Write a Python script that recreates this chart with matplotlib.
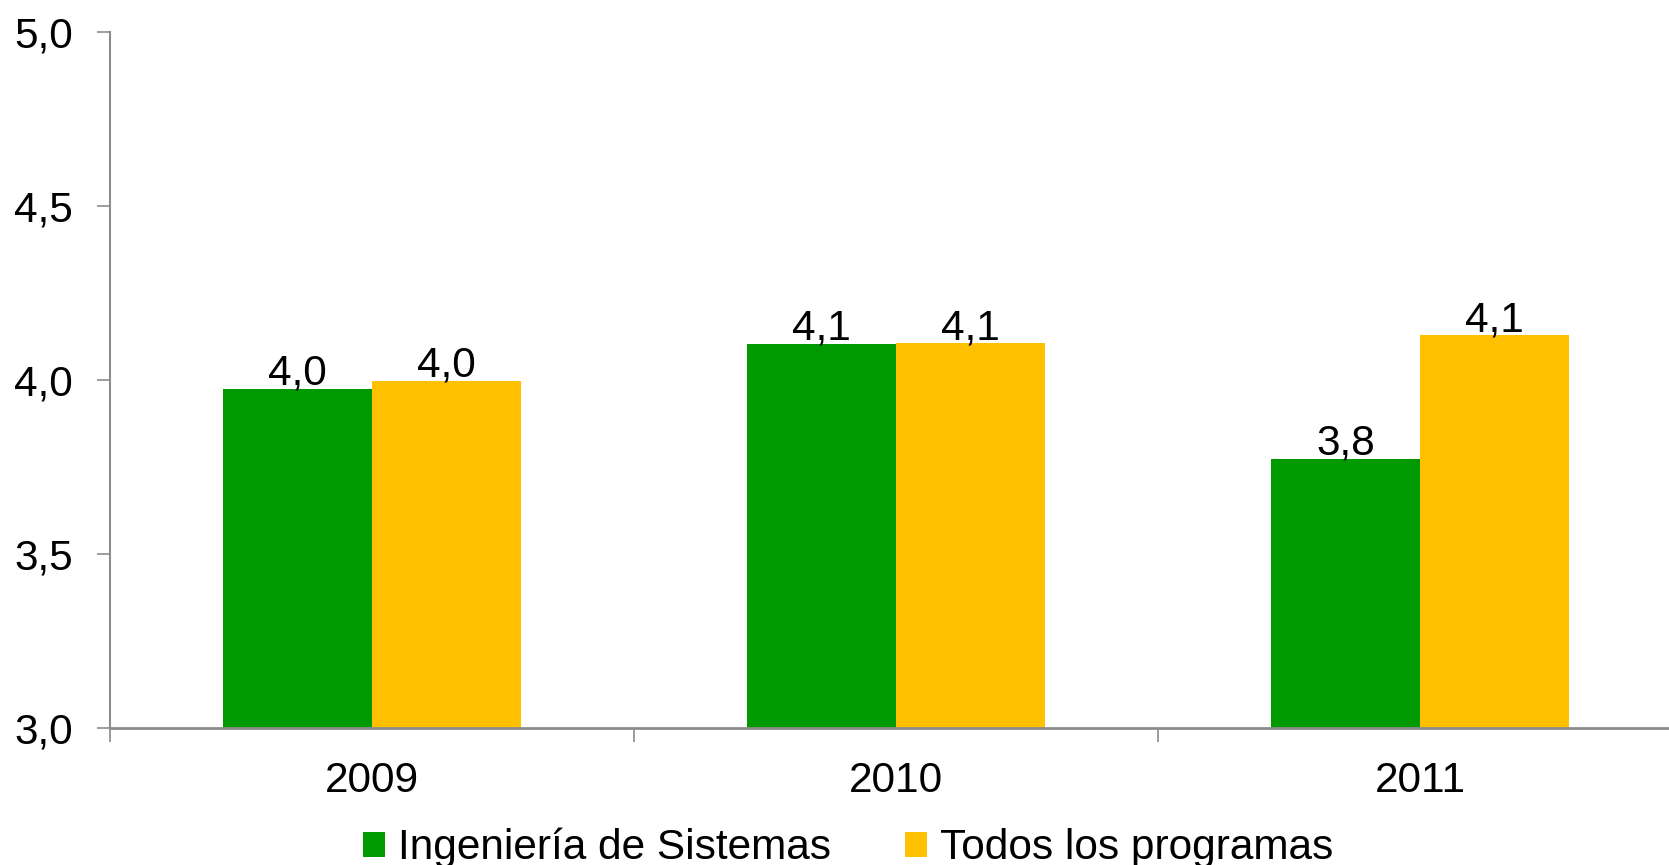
import matplotlib
matplotlib.use("Agg")
import matplotlib.pyplot as plt
from matplotlib.patches import Patch
import numpy as np

plt.rcParams['font.family'] = ['Liberation Sans', 'DejaVu Sans']

years = ["2009", "2010", "2011"]
series_names = ["Ingeniería de Sistemas", "Todos los programas"]
ing_sistemas = [3.975, 4.104, 3.774]
todos = [3.998, 4.106, 4.128]
colors = ["#009900", "#FFC000"]
yticks = [3.0, 3.5, 4.0, 4.5, 5.0]

W, H = 1669, 865
fig = plt.figure(figsize=(W / 100, H / 100), dpi=100)
ax = fig.add_axes([110 / W, (H - 728) / H, 1572 / W, 696 / H])

x = np.arange(len(years))
bw = 0.285
fs = 30.5

for i, (vals, col) in enumerate(zip([ing_sistemas, todos], colors)):
    pos = x + (i - 0.5) * bw
    ax.bar(pos, vals, width=bw, color=col, edgecolor='none', zorder=2)
    for px, v in zip(pos, vals):
        ax.annotate(f"{v:.1f}".replace('.', ','), (px, v), xytext=(0, 4),
                    textcoords='offset pixels', ha='center', va='baseline',
                    fontsize=fs, color='black')

ax.set_xlim(-0.5, 2.5)
ax.set_ylim(3.0, 5.0)
ax.set_yticks(yticks)
ax.set_yticklabels([f"{t:.1f}".replace('.', ',') for t in yticks], fontsize=fs)

ax.set_xticks([-0.5, 0.5, 1.5, 2.5])
ax.set_xticklabels([])
ax.set_xticks(x, minor=True)
ax.set_xticklabels(years, minor=True, fontsize=fs)
ax.tick_params(axis='x', which='minor', length=0, pad=23.5)
ax.tick_params(axis='x', which='major', length=10, width=1.2, color='#8c8c8c')
ax.tick_params(axis='y', length=9.5, width=1.2, color='#8c8c8c', pad=17)

for s in ['top', 'right']:
    ax.spines[s].set_visible(False)
ax.spines['left'].set_color('#8c8c8c')
ax.spines['bottom'].set_color('#8c8c8c')
ax.spines['left'].set_linewidth(1.5)
ax.spines['bottom'].set_linewidth(2)

handles = [Patch(facecolor=c, edgecolor='none') for c in colors]
fig.legend(handles, series_names, loc='center', bbox_to_anchor=(848 / W, (H - 848) / H),
           ncol=2, frameon=False, fontsize=fs, handlelength=0.52, handleheight=0.52,
           handletextpad=0.3, columnspacing=1.75, borderpad=0, borderaxespad=0)

fig.savefig("out.png", dpi=100)
